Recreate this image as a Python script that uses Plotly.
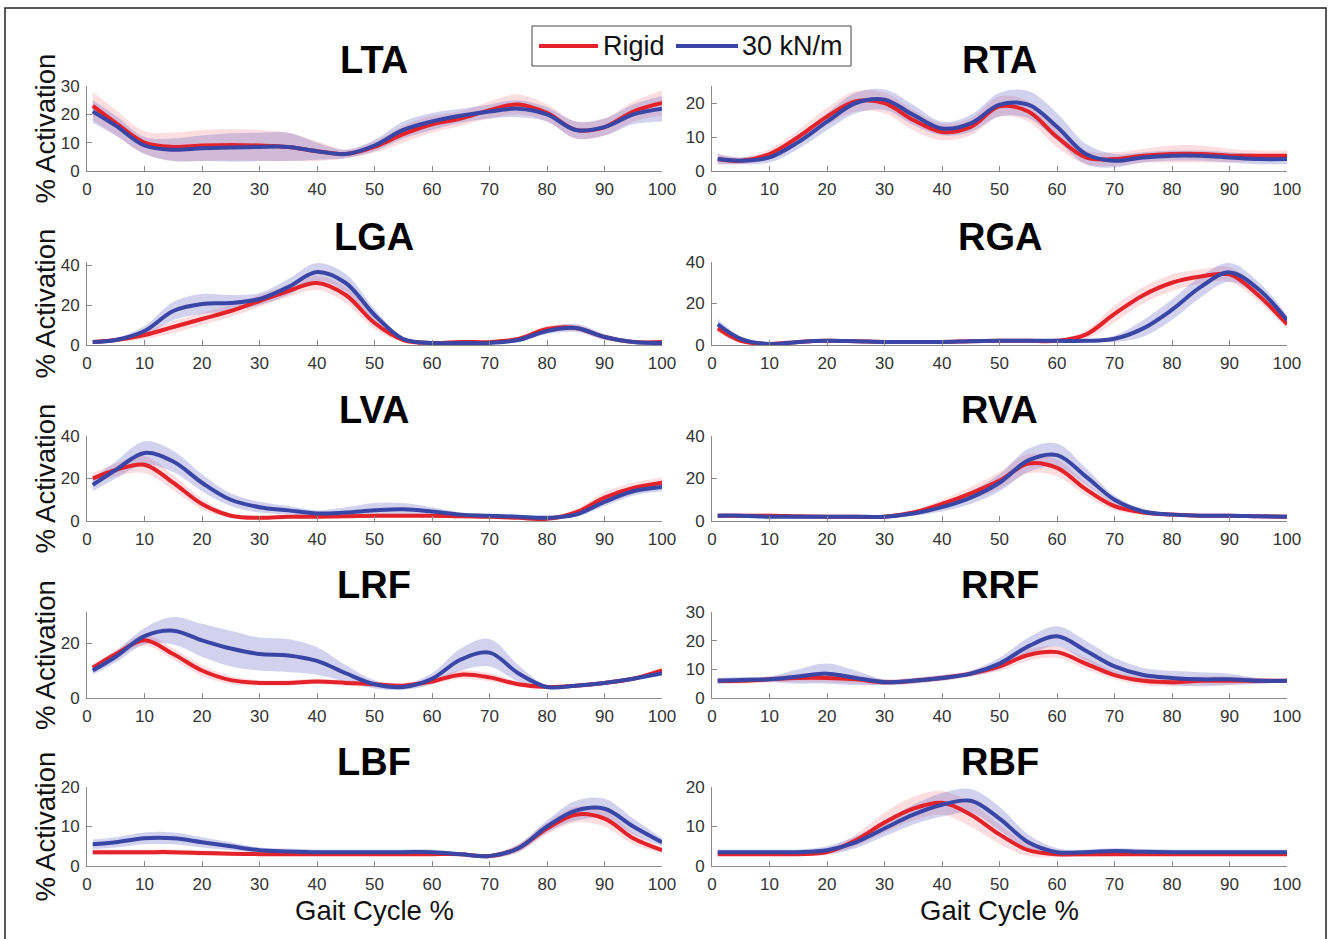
import plotly.graph_objects as go

# ---------------- data (gait cycle %, mean and SD of % activation) ----------------
gait = [1, 5, 10, 15, 20, 25, 30, 35, 40, 45, 50, 55, 60, 65, 70, 75, 80, 85, 90, 95, 100]

LTA_rigid    = [23, 17, 10, 8.5, 9, 9.2, 9, 8.5, 7, 6, 8.5, 13, 16.5, 18.5, 21.5, 23.5, 20.5, 14.5, 15.5, 21, 24]
LTA_rigid_sd = [5, 4.5, 4, 5, 5.5, 5.5, 5.5, 5, 3.5, 1.5, 2, 3, 3, 2.5, 3, 3.5, 3, 3, 3, 3.5, 4.5]
LTA_30       = [21, 16, 9, 7.5, 8, 8.3, 8.5, 8.5, 7, 6, 9, 14.5, 17.5, 19.5, 21, 22, 20, 14.5, 15.5, 20, 22]
LTA_30_sd    = [4, 3.5, 3, 4, 4.5, 5, 5, 5, 3, 1.5, 2, 3, 3, 2.5, 2.5, 3, 2.5, 3, 3, 3.5, 4.5]

RTA_rigid    = [3.5, 3, 5, 10, 16, 20.5, 20, 15, 11.5, 13, 19, 17.5, 10, 4, 3.5, 4.5, 5, 5, 4.5, 4.5, 4.5]
RTA_rigid_sd = [1.5, 1, 1.5, 2, 2.5, 3, 3, 3, 2.5, 2.5, 3, 3, 3, 2, 2, 2, 2.5, 2.5, 2, 1.5, 1.5]
RTA_30       = [3.5, 3, 4, 8.5, 14.5, 20, 21, 16.5, 12.5, 14, 19.5, 19.5, 13, 5, 3, 4, 4.5, 4.5, 4, 3.5, 3.5]
RTA_30_sd    = [1.5, 1, 1.5, 2, 2.5, 3, 3, 3, 2, 2.5, 3.5, 4, 4, 3, 2, 1.5, 1.5, 1.5, 1.5, 1.5, 1.5]

LGA_rigid    = [1.5, 2.5, 5, 9, 13, 17, 22, 27, 31, 25, 11, 2.5, 1, 1.5, 1.5, 3, 8, 8.5, 4, 1.5, 1.5]
LGA_rigid_sd = [1, 1, 2, 3, 3, 3, 3, 3, 3.5, 4, 3, 1, 0.5, 0.5, 0.5, 1, 1.5, 1.5, 1, 0.5, 0.5]
LGA_30       = [1.5, 2.5, 7, 17, 20.5, 21, 23, 29, 36.5, 31, 15, 3, 1, 1, 1, 2.5, 7, 8.5, 4, 1.5, 1]
LGA_30_sd    = [1, 1, 2.5, 4.5, 5, 4, 3, 4, 4.5, 4.5, 3, 1, 0.5, 0.5, 0.5, 1, 1.5, 2, 1.5, 0.5, 0.5]

RGA_rigid    = [8, 2, 0.5, 1.5, 2, 1.8, 1.5, 1.5, 1.5, 1.8, 2, 2, 2, 5, 15, 24, 30, 33, 34, 24, 10]
RGA_rigid_sd = [2, 1, 0.5, 0.5, 0.5, 0.5, 0.5, 0.5, 0.5, 0.5, 0.5, 0.5, 0.5, 2, 4, 4, 4, 3.5, 3.5, 3, 2]
RGA_30       = [10, 3, 0.5, 1.5, 2, 1.8, 1.5, 1.5, 1.5, 1.8, 2, 2, 2, 2, 3, 8, 17, 28, 35, 27, 12]
RGA_30_sd    = [2.5, 1, 0.5, 0.5, 0.5, 0.5, 0.5, 0.5, 0.5, 0.5, 0.5, 0.5, 0.5, 0.5, 1.5, 4, 5, 5, 4.5, 3.5, 2.5]

LVA_rigid    = [20, 24, 26.5, 18, 8, 2.5, 1.5, 2, 2, 2.2, 2.5, 2.5, 2.5, 2.2, 2, 1.5, 1, 4, 11, 15.5, 18]
LVA_rigid_sd = [2.5, 3, 4, 3.5, 2.5, 1, 0.5, 0.5, 0.5, 0.5, 0.5, 0.5, 0.5, 0.5, 0.5, 0.5, 0.5, 1.5, 2.5, 2.5, 2.5]
LVA_30       = [17, 24, 32, 28, 18, 10, 6.5, 5, 3.5, 4, 5, 5.5, 4.5, 3, 2.5, 2, 1.5, 3, 9, 14, 16]
LVA_30_sd    = [3, 4, 5.5, 5, 4, 3, 2.5, 2, 1.5, 2.5, 3.5, 3, 2, 1, 0.5, 0.5, 0.5, 1, 2, 2, 2]

RVA_rigid    = [2.5, 2.5, 2.5, 2.2, 2, 2, 2, 4, 8, 13, 19, 27, 25, 15, 7, 4, 3, 2.5, 2.5, 2.2, 2]
RVA_rigid_sd = [1, 1, 1, 0.5, 0.5, 0.5, 0.5, 1, 2, 3, 4, 4.5, 4, 3, 2, 1, 0.5, 0.5, 0.5, 0.5, 0.5]
RVA_30       = [2.5, 2.5, 2, 2, 2, 2, 2, 3.5, 6.5, 11, 18, 28.5, 31, 21, 10, 4.5, 3, 2.5, 2.5, 2.2, 2]
RVA_30_sd    = [0.5, 0.5, 0.5, 0.5, 0.5, 0.5, 0.5, 1, 2, 3, 4, 5.5, 5.5, 4, 2, 1, 0.5, 0.5, 0.5, 0.5, 0.5]

LRF_rigid    = [11, 16, 21, 16, 10, 6.5, 5.5, 5.5, 6, 5.5, 5, 4.5, 6, 8.5, 7.5, 5, 4, 4.5, 5.5, 7, 10]
LRF_rigid_sd = [1, 1.5, 2, 2, 2, 1.5, 1, 1, 1, 1, 1, 1, 1, 1.5, 1.5, 1, 0.5, 0.5, 0.5, 0.5, 1]
LRF_30       = [10, 15, 22.5, 24.5, 21, 18, 16, 15.5, 13.5, 9, 5, 4, 7, 14, 16.5, 9, 4, 4.5, 5.5, 7, 9]
LRF_30_sd    = [1.5, 2, 3, 5, 6, 6.5, 6, 6, 5, 3, 1.5, 1, 2, 4, 5, 3, 0.5, 0.5, 0.5, 0.5, 1]

RRF_rigid    = [6, 6, 6.5, 7, 7, 6.5, 5.5, 6, 7, 8.5, 11, 15, 16, 12, 8, 6, 5.5, 6, 6, 6, 6]
RRF_rigid_sd = [1, 1, 1, 1.5, 1.5, 1.5, 1, 1, 1, 1, 1.5, 2, 2, 2, 1.5, 1.5, 1.5, 1.5, 1.5, 1, 0.5]
RRF_30       = [6, 6.3, 6.5, 7.5, 8.5, 7, 5.5, 6, 7, 8.5, 12, 18, 21.5, 16.5, 11, 8, 7, 6.5, 6.5, 6, 6]
RRF_30_sd    = [1, 1, 1, 2.5, 3.5, 2.5, 1, 1, 1, 1, 2, 3, 3.5, 3.5, 3, 2.5, 2.5, 2.5, 2, 1, 0.5]

LBF_rigid    = [3.5, 3.5, 3.5, 3.5, 3.3, 3.1, 3, 3, 3, 3, 3, 3, 3, 3, 2.5, 4.5, 9.5, 13, 12, 7, 4]
LBF_rigid_sd = [0.7, 0.7, 0.7, 0.7, 0.7, 0.6, 0.5, 0.5, 0.5, 0.5, 0.5, 0.5, 0.5, 0.5, 0.5, 1, 1.5, 2, 2, 1.5, 0.7]
LBF_30       = [5.5, 6, 7, 7, 6, 5, 4, 3.7, 3.5, 3.5, 3.5, 3.5, 3.5, 3, 2.5, 4.5, 10, 14, 14.5, 10, 6]
LBF_30_sd    = [1.2, 1.3, 1.5, 1.5, 1.3, 1, 0.7, 0.7, 0.7, 0.7, 0.7, 0.7, 0.7, 0.5, 0.5, 1, 1.5, 2.5, 2.5, 2, 1]

RBF_rigid    = [3, 3, 3, 3, 3.5, 6.5, 11, 14.5, 16, 13, 8, 4, 3, 3, 3, 3, 3, 3, 3, 3, 3]
RBF_rigid_sd = [0.5, 0.5, 0.5, 0.5, 0.7, 1.5, 2.5, 3, 3, 3, 2.5, 1.5, 0.7, 0.7, 0.5, 0.5, 0.5, 0.5, 0.5, 0.5, 0.5]
RBF_30       = [3.5, 3.5, 3.5, 3.5, 4, 6, 9.5, 13, 15.5, 16.5, 12, 6, 3.5, 3.5, 3.8, 3.6, 3.5, 3.5, 3.5, 3.5, 3.5]
RBF_30_sd    = [0.7, 0.7, 0.7, 0.7, 1, 1.5, 2, 2.5, 3, 3, 3, 2, 1, 0.7, 0.7, 0.7, 0.7, 0.7, 0.7, 0.7, 0.7]

muscles = ["LTA", "RTA", "LGA", "RGA", "LVA", "RVA", "LRF", "RRF", "LBF", "RBF"]
series = {
    "LTA": (LTA_rigid, LTA_rigid_sd, LTA_30, LTA_30_sd),
    "RTA": (RTA_rigid, RTA_rigid_sd, RTA_30, RTA_30_sd),
    "LGA": (LGA_rigid, LGA_rigid_sd, LGA_30, LGA_30_sd),
    "RGA": (RGA_rigid, RGA_rigid_sd, RGA_30, RGA_30_sd),
    "LVA": (LVA_rigid, LVA_rigid_sd, LVA_30, LVA_30_sd),
    "RVA": (RVA_rigid, RVA_rigid_sd, RVA_30, RVA_30_sd),
    "LRF": (LRF_rigid, LRF_rigid_sd, LRF_30, LRF_30_sd),
    "RRF": (RRF_rigid, RRF_rigid_sd, RRF_30, RRF_30_sd),
    "LBF": (LBF_rigid, LBF_rigid_sd, LBF_30, LBF_30_sd),
    "RBF": (RBF_rigid, RBF_rigid_sd, RBF_30, RBF_30_sd),
}
y_ranges = {"LTA": 30, "RTA": 25, "LGA": 41.5, "RGA": 40, "LVA": 40, "RVA": 40,
            "LRF": 31.3, "RRF": 30, "LBF": 20, "RBF": 20}
y_ticks = {"LTA": [0, 10, 20, 30], "RTA": [0, 10, 20], "LGA": [0, 20, 40], "RGA": [0, 20, 40],
           "LVA": [0, 20, 40], "RVA": [0, 20, 40], "LRF": [0, 20], "RRF": [0, 10, 20, 30],
           "LBF": [0, 10, 20], "RBF": [0, 10, 20]}
x_ticks = [0, 10, 20, 30, 40, 50, 60, 70, 80, 90, 100]
legend_names = ["Rigid", "30 kN/m"]

# ---------------- styling ----------------
W, H = 1332, 939
RED = "#e42229"
BLUE = "#3a46a6"
RED_BAND = "rgba(240,100,115,0.22)"
BLUE_BAND = "rgba(105,105,200,0.30)"
FONT = "Liberation Sans, Arial, sans-serif"
AX_COL = "#8a8a8a"
TXT_COL = "#333333"

col_px = [(87, 662), (712, 1287)]
row_px = [(86, 171), (262, 345), (436, 521), (612, 698), (787, 866)]
title_py = [60, 237, 410, 585, 762]

fig = go.Figure()
layout = dict(
    width=W, height=H, margin=dict(l=0, r=0, t=0, b=0, autoexpand=False),
    paper_bgcolor="white", plot_bgcolor="white",
    showlegend=False,
)
annotations = []

for i, m in enumerate(muscles):
    r, c = divmod(i, 2)
    idx = i + 1
    xa = "x" if idx == 1 else f"x{idx}"
    ya = "y" if idx == 1 else f"y{idx}"
    rig, rig_sd, k30, k30_sd = series[m]
    # bands
    for mean, sd, band in ((rig, rig_sd, RED_BAND), (k30, k30_sd, BLUE_BAND)):
        lo = [a - b for a, b in zip(mean, sd)]
        hi = [a + b for a, b in zip(mean, sd)]
        fig.add_trace(go.Scatter(x=gait, y=lo, mode="lines", line=dict(width=0, shape="spline"),
                                 hoverinfo="skip", xaxis=xa, yaxis=ya))
        fig.add_trace(go.Scatter(x=gait, y=hi, mode="lines", line=dict(width=0, shape="spline"),
                                 fill="tonexty", fillcolor=band,
                                 hoverinfo="skip", xaxis=xa, yaxis=ya))
    # mean lines
    fig.add_trace(go.Scatter(x=gait, y=rig, mode="lines", name=legend_names[0],
                             line=dict(color=RED, width=4, shape="spline"),
                             legendgroup="rigid", xaxis=xa, yaxis=ya))
    fig.add_trace(go.Scatter(x=gait, y=k30, mode="lines", name=legend_names[1],
                             line=dict(color=BLUE, width=4, shape="spline"),
                             legendgroup="k30", xaxis=xa, yaxis=ya))

    x0, x1 = col_px[c]
    top, bot = row_px[r]
    axis_common = dict(showline=True, linecolor=AX_COL, linewidth=1, ticks="inside", ticklen=5,
                       tickcolor=AX_COL, showgrid=False, zeroline=False, mirror=False,
                       automargin=False,
                       tickfont=dict(family=FONT, size=17, color=TXT_COL))
    layout["xaxis" if idx == 1 else f"xaxis{idx}"] = dict(
        domain=[x0 / W, x1 / W], range=[0, 100], tickvals=x_ticks, anchor=ya,
        ticklabelstandoff=3, **axis_common)
    layout["yaxis" if idx == 1 else f"yaxis{idx}"] = dict(
        domain=[1 - bot / H, 1 - top / H], range=[0, y_ranges[m]], tickvals=y_ticks[m],
        anchor=xa, ticklabelstandoff=3, **axis_common)

    annotations.append(dict(text=f"<b>{m}</b>", x=(x0 + x1) / 2 / W, y=1 - title_py[r] / H,
                            xref="paper", yref="paper", xanchor="center", yanchor="middle",
                            showarrow=False, font=dict(family=FONT, size=38, color="black")))
    if c == 0:
        annotations.append(dict(text="% Activation", x=45 / W, y=1 - (top + bot) / 2 / H,
                                xref="paper", yref="paper", xanchor="center", yanchor="middle",
                                textangle=-90, showarrow=False,
                                font=dict(family=FONT, size=27.5, color="#111111")))
    if r == 4:
        annotations.append(dict(text="Gait Cycle %", x=(x0 + x1) / 2 / W, y=1 - 910 / H,
                                xref="paper", yref="paper", xanchor="center", yanchor="middle",
                                showarrow=False, font=dict(family=FONT, size=27.5, color="#111111")))

# legend box (drawn in paper space, MATLAB-style long line samples)
shapes = [dict(type="rect", xref="paper", yref="paper", x0=5 / W, x1=1326 / W,
               y0=-0.05, y1=1 - 8 / H, line=dict(color="#222222", width=1.5))]
shapes.append(dict(type="rect", xref="paper", yref="paper", x0=532 / W, x1=851 / W,
                   y0=1 - 66 / H, y1=1 - 26 / H, fillcolor="white",
                   line=dict(color="#444444", width=1)))
leg_items = [(legend_names[0], RED, 539, 598, 601), (legend_names[1], BLUE, 676, 738, 740)]
for name, col, lx0, lx1, tx in leg_items:
    shapes.append(dict(type="line", xref="paper", yref="paper", x0=lx0 / W, x1=lx1 / W,
                       y0=1 - 46 / H, y1=1 - 46 / H, line=dict(color=col, width=4)))
    annotations.append(dict(text=name, x=tx / W, y=1 - 46 / H, xref="paper", yref="paper",
                            xanchor="left", yanchor="middle", showarrow=False,
                            font=dict(family=FONT, size=27, color="#111111")))

layout["annotations"] = annotations
layout["shapes"] = shapes
fig.update_layout(**layout)
fig.write_html(
    "out.html",
    config={"displayModeBar": False},
    post_script="document.documentElement.style.margin='0';document.body.style.margin='0';"
                "document.body.style.padding='0';document.body.style.overflow='hidden';",
)
